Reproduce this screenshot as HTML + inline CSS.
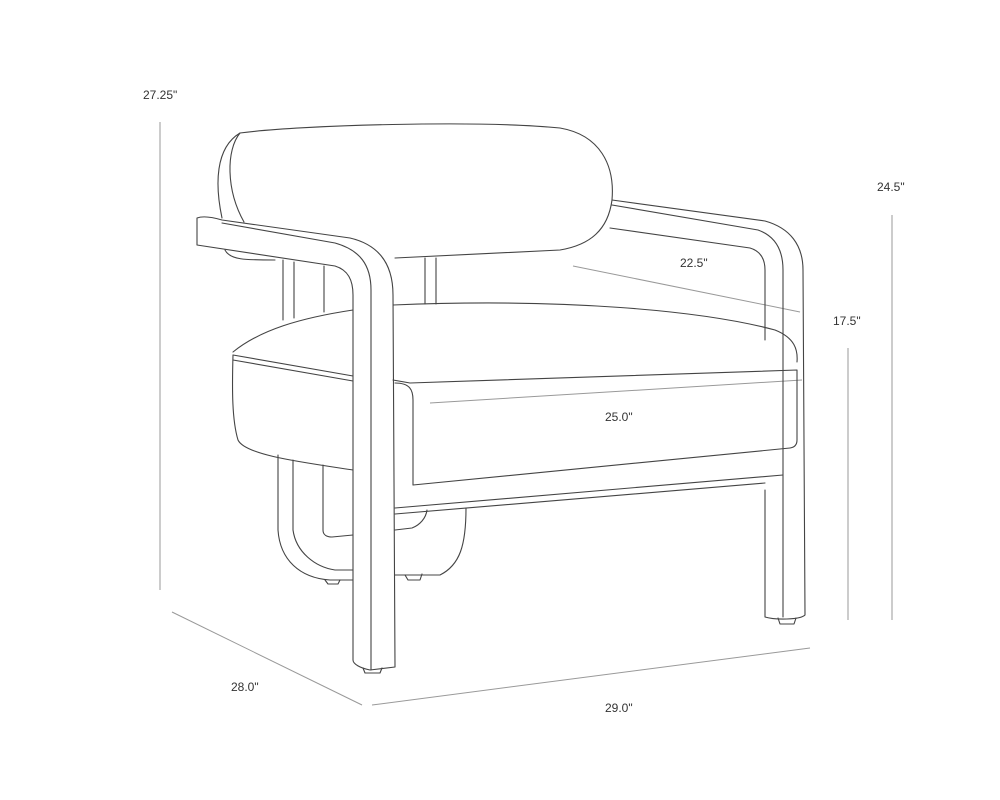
<!DOCTYPE html>
<html><head><style>
html,body{margin:0;padding:0;background:#fff;}
svg{display:block;}
text{font-family:"Liberation Sans",sans-serif;font-size:12px;fill:#333;}
</style></head><body>
<svg width="1000" height="800" viewBox="0 0 1000 800" xmlns="http://www.w3.org/2000/svg">
<g stroke="#999" stroke-width="1" fill="none">
<line x1="160" y1="122" x2="160" y2="590"/>
<line x1="892" y1="215" x2="892" y2="620"/>
<line x1="848" y1="348" x2="848" y2="620"/>
<line x1="573" y1="266" x2="800" y2="312"/>
<line x1="430" y1="403" x2="802" y2="380"/>
<line x1="172" y1="612" x2="362" y2="705"/>
<line x1="372" y1="705" x2="810" y2="648"/>
</g>
<g>
<text x="143" y="99">27.25"</text>
<text x="877" y="191">24.5"</text>
<text x="833" y="325">17.5"</text>
<text x="680" y="267">22.5"</text>
<text x="605" y="421">25.0"</text>
<text x="231" y="691">28.0"</text>
<text x="605" y="712">29.0"</text>
</g>
<g stroke="#444" stroke-width="1.1" fill="none" stroke-linejoin="round" stroke-linecap="round">
<!-- backrest -->
<path d="M222,218 C215,185 215,148 240,133 C300,125 480,120 560,128 C600,135 615,165 612,200 C608,230 590,245 560,250 L395,258"/>
<path d="M240,133 C226,150 226,190 244,222"/>
<!-- left arm -->
<path d="M197,218 L197,245 L335,266 C348,270 353,280 353,295 L353,660 C353,664 360,668 370,670 L395,667 L393,295 C393,265 380,245 350,238 L222,220 Q205,215 197,218 Z"/>
<path d="M222,223 L335,243 C360,250 371,265 371,290 L371,670"/>
<path d="M225,250 C230,260 245,260 275,260"/>
<!-- posts behind -->
<path d="M283,260 L283,320 M294,262 L294,318 M324,266 L324,312 M425,258 L425,304 M436,258 L436,304"/>
<!-- right arm -->
<path d="M612,200 L765,221 C790,228 803,245 803,270 L805,615 C800,620 775,620 765,617 L765,490"/>
<path d="M612,205 L758,230 C775,236 783,250 783,270 L783,617"/>
<path d="M610,228 L750,248 C760,251 765,258 765,270 L765,340"/>
<!-- seat cushion -->
<path d="M233,352 C260,330 300,318 353,310 M393,305 C560,298 700,310 775,330 C795,338 798,350 797,362"/>
<path d="M233,355 C232,390 232,420 238,440 C245,455 300,462 353,470"/>
<path d="M233,355 L353,376 M233,360 L353,381"/>
<path d="M393,380 L410,383 L797,370 L797,440 Q797,447 790,448"/>
<path d="M395,383 C410,383 413,390 413,400 L413,485"/>
<path d="M413,485 L790,448"/>
<path d="M395,508 L783,475"/>
<path d="M395,514 L765,483"/>
<!-- lower rear leg loop -->
<path d="M278,455 L278,530 C280,560 300,578 330,580 L353,580"/>
<path d="M293,460 L293,530 C296,552 315,567 335,570 L353,570"/>
<path d="M323,465 L323,530 C323,535 327,537 332,537 L353,535"/>
<path d="M395,575 L440,575 C460,565 466,545 466,508"/>
<path d="M395,530 L412,528 C420,525 426,518 427,510"/>
<path d="M405,575 L408,580 L420,580 L422,574"/>
<path d="M325,580 L328,584 L338,584 L340,580"/>
<path d="M363,668 L365,673 L380,673 L382,668"/>
<path d="M778,618 L780,624 L794,624 L796,618"/>
</g>
</svg>
</body></html>
